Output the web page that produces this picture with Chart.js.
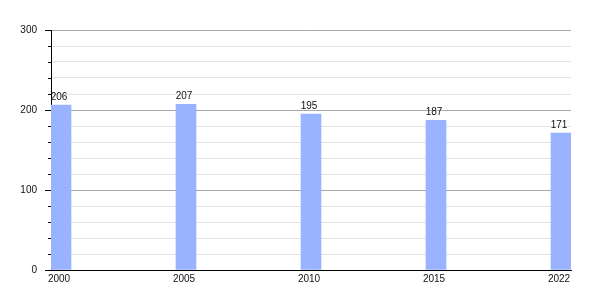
<!DOCTYPE html>
<html>
<head>
<meta charset="utf-8">
<script src="https://cdn.jsdelivr.net/npm/chart.js@4/dist/chart.umd.min.js"></script>
<style>
html,body{margin:0;padding:0;background:#fff;}
canvas{display:block;}
</style>
</head>
<body>
<canvas id="c" width="600" height="300"></canvas>
<script>
const years = ['2000', '2005', '2010', '2015', '2022'];
const values = [206, 207, 195, 187, 171];
const yMin = 0;
const yMax = 300;
const yMinorStep = 20;
const yMajorStep = 100;

const FONT = {family: 'Arial, "Liberation Sans", sans-serif', size: 10};

const overlay = {
  id: 'overlay',
  afterDatasetsDraw(chart) {
    const ctx = chart.ctx;
    const y = chart.scales.y;
    ctx.save();
    ctx.strokeStyle = '#000';
    ctx.lineWidth = 1;
    y.ticks.forEach(t => {
      if (t.value % yMajorStep !== 0) {
        const py = Math.round(y.getPixelForValue(t.value)) + 0.5;
        ctx.beginPath();
        ctx.moveTo(y.right - 3, py);
        ctx.lineTo(y.right, py);
        ctx.stroke();
      }
    });
    const meta = chart.getDatasetMeta(0);
    ctx.fillStyle = '#111';
    ctx.font = '10px Arial, "Liberation Sans", sans-serif';
    ctx.textAlign = 'center';
    ctx.textBaseline = 'bottom';
    meta.data.forEach((bar, i) => {
      ctx.fillText(String(values[i]), bar.x - 2, bar.y - 3);
    });
    ctx.restore();
  }
};

new Chart(document.getElementById('c'), {
  type: 'bar',
  data: {
    datasets: [{
      data: values.map((v, i) => ({x: i, y: v})),
      backgroundColor: '#99b3ff',
      borderWidth: 0,
      barThickness: 20
    }]
  },
  options: {
    responsive: false,
    animation: false,
    devicePixelRatio: 1,
    layout: {padding: {top: 30, right: 29, left: 0, bottom: 0}},
    plugins: {legend: {display: false}, tooltip: {enabled: false}},
    scales: {
      x: {
        type: 'linear',
        offset: false,
        min: -0.08,
        max: years.length - 1 + 0.08,
        afterBuildTicks(scale) {
          scale.ticks = years.map((_, i) => ({value: i}));
        },
        afterFit(scale) { scale.height = 30; },
        grid: {display: false, drawTicks: false, offset: false},
        border: {display: true, color: '#000', width: 1},
        ticks: {
          color: '#111',
          font: FONT,
          padding: 3,
          labelOffset: -2,
          autoSkip: false,
          maxRotation: 0,
          callback: (v) => years[v]
        }
      },
      y: {
        min: yMin,
        max: yMax,
        afterFit(scale) { scale.width = 51; },
        border: {display: true, color: '#000', width: 1},
        grid: {
          color: (ctx) => {
            const v = ctx.tick ? ctx.tick.value : 0;
            if (v === 0) return '#000';
            return v % yMajorStep === 0 ? '#a8a8a8' : '#e4e4e4';
          },
          tickColor: (ctx) => {
            const v = ctx.tick ? ctx.tick.value : 0;
            return v % yMajorStep === 0 ? '#000' : 'rgba(0,0,0,0)';
          },
          tickLength: 6,
          drawTicks: true
        },
        ticks: {
          stepSize: yMinorStep,
          autoSkip: false,
          color: '#111',
          font: FONT,
          padding: 8,
          callback: (v) => (v % yMajorStep === 0 ? String(v) : '')
        }
      }
    }
  },
  plugins: [overlay]
});
</script>
</body>
</html>
